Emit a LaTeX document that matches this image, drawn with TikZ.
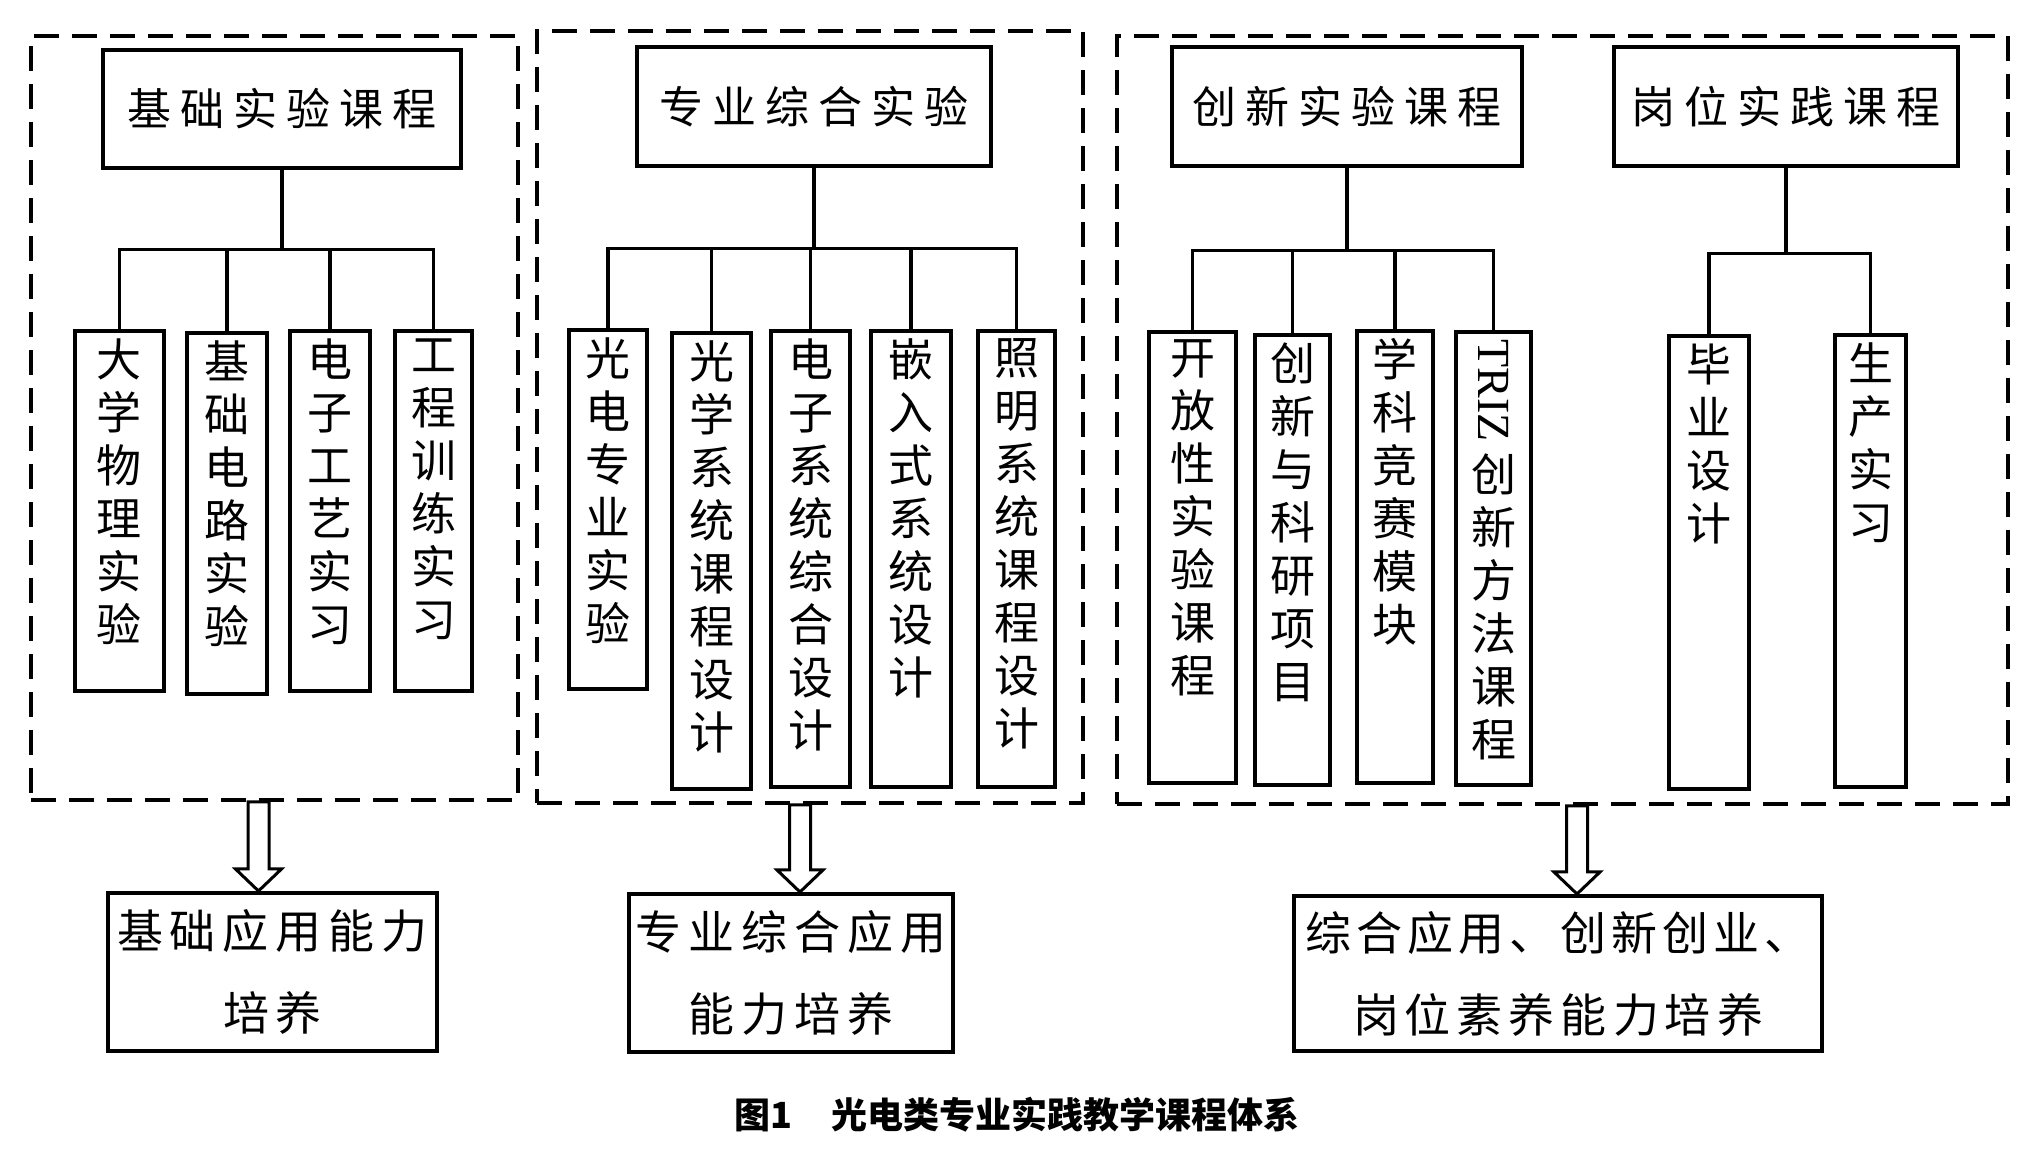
\documentclass[tikz,border=0pt]{standalone}
\usepackage{fontspec}
\usepackage{graphicx}
\setmainfont{Noto Sans CJK SC}
\newfontfamily\latinserif{Liberation Serif}
\usetikzlibrary{calc}

\makeatletter
\newcommand\spcd[2]{\def\spcd@sk{#1}\spcd@loop#2\relax}
\def\spcd@loop#1#2{#1\ifx\relax#2\else\hskip\spcd@sk\relax\expandafter\spcd@loop\expandafter#2\fi}
\makeatother

% #1 style, #2 name, #3 x1, #4 y1, #5 x2, #6 y2 ; node text follows
\newcommand\bx[6]{\node[#1,minimum width={(#5-#3)*0.5pt},minimum height={(#6-#4)*0.5pt}] (#2) at ({(#3+#5)/2},{(#4+#6)/2})}

\newcommand\barr[2]{%
  \draw[barrow] ($(#1)+(-10.5,0)$) -- ($(#2)+(-10.5,-22)$) -- ($(#2)+(-23,-22)$) -- (#2)
     -- ($(#2)+(23,-22)$) -- ($(#2)+(10.5,-22)$) -- ($(#1)+(10.5,0)$) -- cycle;}

\tikzset{
  box/.style={draw, line width=1.7pt, inner sep=0pt},
  tbox/.style={box, font=\fontsize{22pt}{26pt}\selectfont},
  obox/.style={draw, line width=2pt, inner sep=0pt, align=center, font=\fontsize{23pt}{41pt}\selectfont},
  dbox/.style={draw, line width=1.8pt, dash pattern=on 12.5pt off 6.5pt, inner sep=0pt},
  conn/.style={line width=1.7pt},
  vtext/.style={font=\fontsize{22.5pt}{26.5pt}\selectfont, align=center, inner sep=0pt, anchor=north},
  barrow/.style={line width=1.5pt, fill=white, line join=miter},
}

\begin{document}
\begin{tikzpicture}[x=0.5pt, y=-0.5pt]
\fill[white] (0,0) rectangle (2026,1159);
\useasboundingbox (0,0) rectangle (2026,1159);

% dashed groups
\bx{dbox}{g1}{31}{36}{518}{800} {};
\bx{dbox}{g2}{537}{31}{1083}{803} {};
\bx{dbox}{g3}{1117}{36}{2008}{804} {};

% top boxes
\bx{tbox}{t1}{103}{50}{461}{168} {\spcd{4.5pt}{基础实验课程}};
\bx{tbox}{t2}{637}{47}{991}{166} {\spcd{4.5pt}{专业综合实验}};
\bx{tbox}{t3}{1172}{47}{1522}{166} {\spcd{4.5pt}{创新实验课程}};
\bx{tbox}{t4}{1614}{47}{1958}{166} {\spcd{4.5pt}{岗位实践课程}};

% children group 1
\bx{box}{c11}{75}{331}{164}{691} {};
\bx{box}{c12}{187}{333}{267}{694} {};
\bx{box}{c13}{290}{331}{370}{691} {};
\bx{box}{c14}{395}{331}{472}{691} {};
% group 2
\bx{box}{c21}{569}{330}{647}{689} {};
\bx{box}{c22}{672}{333}{751}{789} {};
\bx{box}{c23}{771}{331}{850}{787} {};
\bx{box}{c24}{871}{331}{951}{787} {};
\bx{box}{c25}{978}{331}{1055}{787} {};
% group 3
\bx{box}{c31}{1149}{332}{1236}{783} {};
\bx{box}{c32}{1255}{335}{1330}{785} {};
\bx{box}{c33}{1357}{331}{1433}{783} {};
\bx{box}{c34}{1456}{332}{1531}{785} {};
% group 4
\bx{box}{c41}{1669}{336}{1749}{789} {};
\bx{box}{c42}{1835}{335}{1906}{787} {};

% vertical texts
\node[vtext] (c11t) at ([yshift=-4.5pt]c11.north) {大\\学\\物\\理\\实\\验};
\node[vtext] (c12t) at ([yshift=-4.5pt]c12.north) {基\\础\\电\\路\\实\\验};
\node[vtext] (c13t) at ([yshift=-4.5pt]c13.north) {电\\子\\工\\艺\\实\\习};
\node[vtext] (c14t) at ([yshift=-4.5pt]c14.north) {工\\程\\训\\练\\实\\习};
\node[vtext] (c21t) at ([yshift=-4.5pt]c21.north) {光\\电\\专\\业\\实\\验};
\node[vtext] (c22t) at ([yshift=-4.5pt]c22.north) {光\\学\\系\\统\\课\\程\\设\\计};
\node[vtext] (c23t) at ([yshift=-4.5pt]c23.north) {电\\子\\系\\统\\综\\合\\设\\计};
\node[vtext] (c24t) at ([yshift=-4.5pt]c24.north) {嵌\\入\\式\\系\\统\\设\\计};
\node[vtext] (c25t) at ([yshift=-4.5pt]c25.north) {照\\明\\系\\统\\课\\程\\设\\计};
\node[vtext] (c31t) at ([yshift=-4.5pt]c31.north) {开\\放\\性\\实\\验\\课\\程};
\node[vtext] (c32t) at ([yshift=-4.5pt]c32.north) {创\\新\\与\\科\\研\\项\\目};
\node[vtext] (c33t) at ([yshift=-4.5pt]c33.north) {学\\科\\竞\\赛\\模\\块};
\node[vtext] (c34t) at ([yshift=-4.5pt]c34.north) {\rotatebox{-90}{\fontsize{23pt}{25pt}\latinserif TRIZ\hspace{5pt}}\\创\\新\\方\\法\\课\\程};
\node[vtext] (c41t) at ([yshift=-4.5pt]c41.north) {毕\\业\\设\\计};
\node[vtext] (c42t) at ([yshift=-4.5pt]c42.north) {生\\产\\实\\习};

% tree connectors
\coordinate (j1) at ($(t1.south)+(0,80)$);
\coordinate (j2) at ($(t2.south)+(0,81)$);
\coordinate (j3) at ($(t3.south)+(0,83)$);
\coordinate (j4) at ($(t4.south)+(0,86)$);
\draw[conn] (t1.south) -- (j1);
\draw[conn] (t2.south) -- (j2);
\draw[conn] (t3.south) -- (j3);
\draw[conn] (t4.south) -- (j4);
\foreach \c in {c11,c12,c13,c14} \draw[conn] (j1) -| (\c.north);
\foreach \c in {c21,c22,c23,c24,c25} \draw[conn] (j2) -| (\c.north);
\foreach \c in {c31,c32,c33,c34} \draw[conn] (j3) -| (\c.north);
\foreach \c in {c41,c42} \draw[conn] (j4) -| (\c.north);

% outcome boxes
\bx{obox}{o1}{108}{893}{437}{1051} {\spcd{3.5pt}{基础应用能力}\\\spcd{3.5pt}{培养}};
\bx{obox}{o2}{629}{894}{953}{1052} {\spcd{3.5pt}{专业综合应用}\\\spcd{3.5pt}{能力培养}};
\bx{obox}{o3}{1294}{896}{1822}{1051} {\spcd{2.5pt}{综合应用、创新创业、}\\\spcd{3pt}{岗位素养能力培养}};

% hollow arrows
\coordinate (ax1) at (258.5,0);
\coordinate (ax2) at (800,0);
\coordinate (ax3) at (1577,0);
\coordinate (a1t) at (g1.south -| ax1);
\coordinate (a1b) at (o1.north -| ax1);
\coordinate (a2t) at (g2.south -| ax2);
\coordinate (a2b) at (o2.north -| ax2);
\coordinate (a3t) at (g3.south -| ax3);
\coordinate (a3b) at (o3.north -| ax3);
\barr{a1t}{a1b}
\barr{a2t}{a2b}
\barr{a3t}{a3b}

% caption
\node[font=\fontsize{18pt}{20pt}\selectfont\bfseries, inner sep=0pt] (cap) at (1017,1115) {图1\hspace{1.1em}光电类专业实践教学课程体系};
\end{tikzpicture}
\end{document}
